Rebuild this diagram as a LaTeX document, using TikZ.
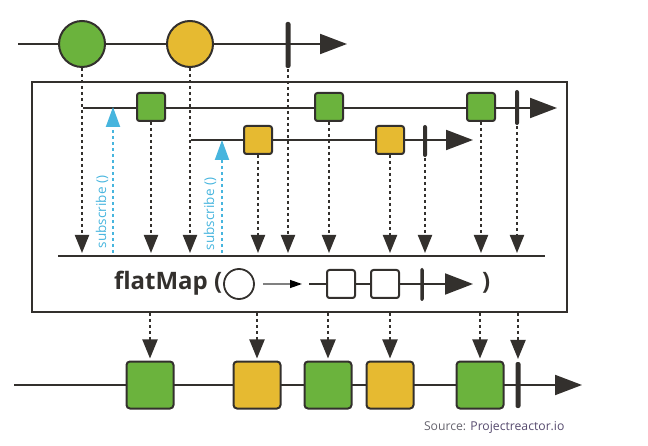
\documentclass[tikz,border=0pt]{standalone}
\usepackage{fontspec}
\setsansfont{Open Sans}
\usetikzlibrary{arrows.meta}
\definecolor{rxgreen}{HTML}{6BB33D}
\definecolor{rxyellow}{HTML}{E6BA31}
\definecolor{rxblue}{HTML}{47B5DE}
\definecolor{rxdark}{HTML}{33302D}
\definecolor{rxgray}{HTML}{66646E}
\definecolor{rxpurple}{HTML}{564A6E}

\begin{document}
\begin{tikzpicture}[x=1pt, y=-1pt, line width=2pt,
  ink/.style={draw=rxdark},
  flow/.style={draw=rxdark, -{Triangle[width=20pt,length=27pt]}},
  ball/.style={circle, draw=rxdark, minimum size=46pt, inner sep=0pt},
  item/.style={draw=rxdark, rounded corners=2.5pt, minimum size=28pt, inner sep=0pt},
  bigitem/.style={item, rounded corners=3.5pt, minimum size=47pt},
  endbar/.style={fill=rxdark, rounded corners=2pt, inner sep=0pt, minimum width=5pt},
  drop/.style={draw=rxdark, dash pattern=on 3pt off 3pt, -{Triangle[width=14pt,length=18pt]}},
  subcall/.style={draw=rxblue, dash pattern=on 3pt off 3pt, -{Triangle[width=14pt,length=20pt]}},
  subtext/.style={rotate=90, inner sep=0pt, text=rxblue, font=\sffamily\fontsize{13.5}{13.5}\selectfont},
  optext/.style={anchor=base west, inner sep=0pt, text=rxdark, font=\sffamily\bfseries\fontsize{24}{24}\selectfont}]
\useasboundingbox (0,0) rectangle (648,446);

% source stream
\draw[flow] (18,44) -- (347,44);
\node[ball, fill=rxgreen] (c1) at (82,44) {};
\node[ball, fill=rxyellow] (c2) at (190,44) {};
\node[endbar, minimum height=46pt] (e0) at (288,45) {};

% operator box
\draw[ink] (32,82) rectangle (567,312);
\draw[flow] (83,108) -- (557,108);
\draw[flow] (191,140) -- (473,140);
\node[item, fill=rxgreen] (g1) at (151,107) {};
\node[item, fill=rxgreen] (g2) at (329,107) {};
\node[item, fill=rxgreen] (g3) at (481,107) {};
\node[endbar, minimum height=35pt, minimum width=4pt] (e1) at (517,107.5) {};
\node[item, fill=rxyellow] (y1) at (258,140) {};
\node[item, fill=rxyellow] (y2) at (390,140) {};
\node[endbar, minimum height=32pt, minimum width=4pt] (e2) at (425,141) {};

\draw[ink] (58,256) -- (545,256);
\coordinate (rail) at (0,253);
\foreach \n in {c1,c2,e0,g1,g2,g3,e1,y1,y2,e2}
  \draw[drop] (\n.south) -- (\n.south |- rail);

\coordinate (s1) at (113,253);
\coordinate (s2) at (222,253);
\draw[subcall] (s1) -- (s1 |- g1);
\draw[subcall] (s2) -- (s2 |- y1);
\node[subtext] (t1) at (102,212) {subscribe ()};
\node[subtext] (t2) at (210,214) {subscribe ()};

% flatMap ( o -> --[]-[]-|--> )
\node[optext] (fm) at (113,290) {flatMap (};
\node[circle, draw=rxdark, line width=1.8pt, minimum size=30pt, inner sep=0pt] (fc) at (239,284) {};
\coordinate (ms) at (309,284);
\draw[gray, line width=1.3pt, -{Triangle[width=8pt,length=12pt,color=black]}] ([xshift=8pt]fc.east) -- ([xshift=-7pt]ms);
\draw[draw=rxdark, -{Triangle[width=21pt,length=28pt]}] (ms) -- (473,284);
\node[item, fill=white] (m1) at (341,284) {};
\node[item, fill=white] (m2) at (385,284) {};
\node[endbar, minimum height=33pt, minimum width=3.5pt] (me) at (422,284.5) {};
\node[optext] (fp) at (481,290) {)};

% result stream
\draw[flow] (14,385) -- (582,385);
\node[bigitem, fill=rxgreen] (o1) at (150,385) {};
\node[bigitem, fill=rxyellow] (o2) at (257,385) {};
\node[bigitem, fill=rxgreen] (o3) at (328,385) {};
\node[bigitem, fill=rxyellow] (o4) at (390,385) {};
\node[bigitem, fill=rxgreen] (o5) at (480,385) {};
\node[endbar, minimum height=46pt] (oe) at (518,385) {};
\coordinate (boxbot) at (0,313);
\foreach \n in {o1,o2,o3,o4,o5,oe}
  \draw[drop, -{Triangle[width=15pt,length=19pt]}] (\n.north |- boxbot) -- ([yshift=2pt]\n.north);

\node[anchor=base west, inner sep=0pt, font=\sffamily\fontsize{12.2}{12.2}\selectfont] (src) at (423,430)
  {\textcolor{rxgray}{Source:} \textcolor{rxpurple}{Projectreactor.io}};
\end{tikzpicture}
\end{document}
